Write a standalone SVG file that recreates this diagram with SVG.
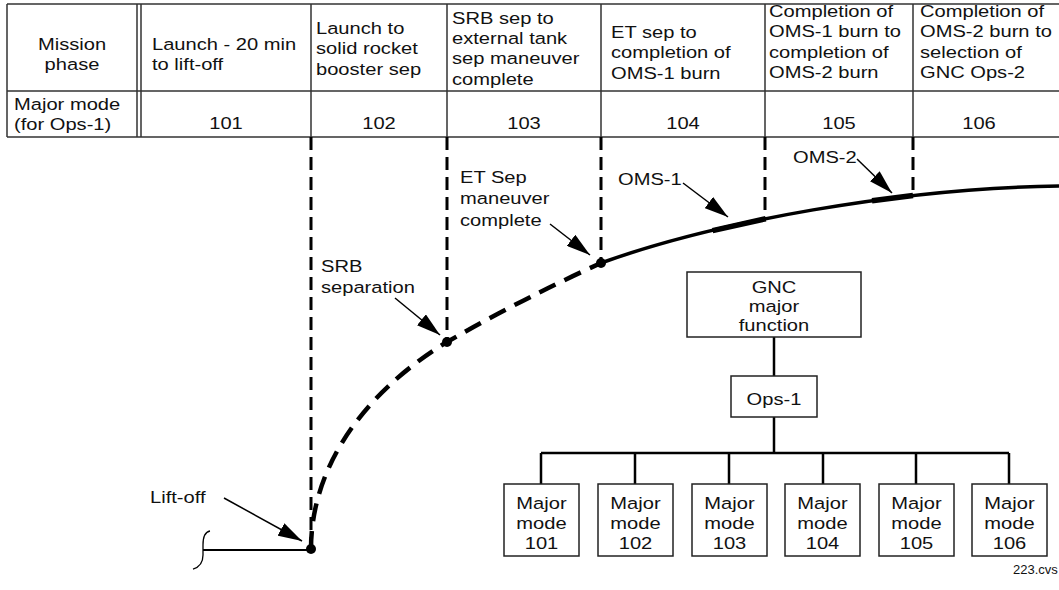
<svg xmlns="http://www.w3.org/2000/svg" width="1059" height="590" viewBox="0 0 1059 590">
<style>
text{font-family:"Liberation Sans",Arial,Helvetica,sans-serif;font-size:16.5px;fill:#111}
.c{text-anchor:middle}
.tl{stroke:#333;stroke-width:1.5;fill:none}
.vd{stroke:#000;stroke-width:3;stroke-dasharray:13 7;fill:none}
.box{fill:#fff;stroke:#222;stroke-width:1.5}
.wire{stroke:#000;stroke-width:2.5;fill:none}
.arr{stroke:#000;stroke-width:1.5;fill:none;marker-end:url(#ah)}
.dot{fill:#000}
</style>
<defs>
<marker id="ah" markerUnits="userSpaceOnUse" markerWidth="25" markerHeight="14" refX="24" refY="7" orient="auto">
<path d="M0,0 L24,7 L0,14 z" fill="#000"/>
</marker>
</defs>
<rect width="1059" height="590" fill="#fff"/>

<g id="table">
<path class="tl" d="M7,4 H1059 M7,91 H1059 M7,137 H1059 M7,4 V137 M137,4 V137 M141,4 V137 M311,4 V137 M447,4 V137 M601,4 V137 M765,4 V137 M913,4 V137"/>
<text class="c" transform="matrix(1.22 0 0 1 72 50)">Mission<tspan x="0" dy="20.5">phase</tspan></text>
<text transform="matrix(1.22 0 0 1 152 50)">Launch - 20 min<tspan x="0" dy="20.5">to lift-off</tspan></text>
<text transform="matrix(1.22 0 0 1 316 34)">Launch to<tspan x="0" dy="20.5">solid rocket</tspan><tspan x="0" dy="20.5">booster sep</tspan></text>
<text transform="matrix(1.22 0 0 1 452 23.5)">SRB sep to<tspan x="0" dy="20.5">external tank</tspan><tspan x="0" dy="20.5">sep maneuver</tspan><tspan x="0" dy="20.5">complete</tspan></text>
<text transform="matrix(1.22 0 0 1 611 38)">ET sep to<tspan x="0" dy="20.5">completion of</tspan><tspan x="0" dy="20.5">OMS-1 burn</tspan></text>
<text transform="matrix(1.22 0 0 1 769 17)">Completion of<tspan x="0" dy="20.5">OMS-1 burn to</tspan><tspan x="0" dy="20.5">completion of</tspan><tspan x="0" dy="20.5">OMS-2 burn</tspan></text>
<text transform="matrix(1.22 0 0 1 920 17)">Completion of<tspan x="0" dy="20.5">OMS-2 burn to</tspan><tspan x="0" dy="20.5">selection of</tspan><tspan x="0" dy="20.5">GNC Ops-2</tspan></text>
<text transform="matrix(1.22 0 0 1 14 110)">Major mode<tspan x="0" dy="20">(for Ops-1)</tspan></text>
<text class="c" transform="matrix(1.22 0 0 1 226 128.5)">101</text>
<text class="c" transform="matrix(1.22 0 0 1 379 128.5)">102</text>
<text class="c" transform="matrix(1.22 0 0 1 524 128.5)">103</text>
<text class="c" transform="matrix(1.22 0 0 1 683 128.5)">104</text>
<text class="c" transform="matrix(1.22 0 0 1 839 128.5)">105</text>
<text class="c" transform="matrix(1.22 0 0 1 979 128.5)">106</text>
</g>

<g id="trajectory">
<path class="vd" d="M311,137 V548 M447,137 V342 M601,137 V263 M765,137 V218 M913,137 V196"/>
<path d="M203,550 H311" stroke="#000" stroke-width="2" fill="none"/>
<path d="M210,531 C204,532 203,538 203,545 L203,555 C203,563 200,567 193,569" stroke="#000" stroke-width="1.3" fill="none"/>
<path d="M311,549 C311,470 360,395 447,342 Q520,300 601,263" stroke="#000" stroke-width="4.5" stroke-dasharray="18 10" fill="none"/>
<path d="M601,263 C715,222 900,188 1059,186" stroke="#000" stroke-width="3.5" fill="none"/>
<path d="M712.6,230.6 L765.7,218.7 M872,200.7 L913,195.6" stroke="#000" stroke-width="5.5" fill="none"/>
<circle class="dot" cx="311" cy="549" r="5"/>
<circle class="dot" cx="447" cy="342" r="5"/>
<circle class="dot" cx="601" cy="263" r="5"/>
</g>

<g id="labels">
<text transform="matrix(1.22 0 0 1 150 503)">Lift-off</text>
<text transform="matrix(1.22 0 0 1 321 272)">SRB<tspan x="0" dy="21.5">separation</tspan></text>
<text transform="matrix(1.22 0 0 1 460 183)">ET Sep<tspan x="0" dy="21.5">maneuver</tspan><tspan x="0" dy="21.5">complete</tspan></text>
<text transform="matrix(1.22 0 0 1 618 185)">OMS-1</text>
<text transform="matrix(1.22 0 0 1 793 163)">OMS-2</text>
<text x="1013" y="574" style="font-size:13px">223.cvs</text>
</g>

<g id="connectors">
<path class="arr" d="M224,498 L302,541"/>
<path class="arr" d="M395,298 L440,335"/>
<path class="arr" d="M550,224 L590,255"/>
<path class="arr" d="M683,183 L728,217"/>
<path class="arr" d="M857,159 L892,193"/>
<path class="wire" d="M774,337 V376 M774,417 V453 M541,453 H1009 M541,453 V484 M635,453 V484 M729,453 V484 M823,453 V484 M916,453 V484 M1009,453 V484"/>
</g>

<g id="gnc">
<rect class="box" x="687" y="272" width="174" height="65"/>
<text class="c" transform="matrix(1.22 0 0 1 774 293)">GNC<tspan x="0" dy="19">major</tspan><tspan x="0" dy="19">function</tspan></text>
</g>
<g id="ops1">
<rect class="box" x="731" y="376" width="86" height="41"/>
<text class="c" transform="matrix(1.22 0 0 1 774 405)">Ops-1</text>
</g>
<g id="mm101"><rect class="box" x="504" y="484" width="75" height="72"/><text class="c" transform="matrix(1.22 0 0 1 541.5 509)">Major<tspan x="0" dy="20">mode</tspan><tspan x="0" dy="20">101</tspan></text></g>
<g id="mm102"><rect class="box" x="598" y="484" width="75" height="72"/><text class="c" transform="matrix(1.22 0 0 1 635.5 509)">Major<tspan x="0" dy="20">mode</tspan><tspan x="0" dy="20">102</tspan></text></g>
<g id="mm103"><rect class="box" x="692" y="484" width="75" height="72"/><text class="c" transform="matrix(1.22 0 0 1 729.5 509)">Major<tspan x="0" dy="20">mode</tspan><tspan x="0" dy="20">103</tspan></text></g>
<g id="mm104"><rect class="box" x="785" y="484" width="75" height="72"/><text class="c" transform="matrix(1.22 0 0 1 822.5 509)">Major<tspan x="0" dy="20">mode</tspan><tspan x="0" dy="20">104</tspan></text></g>
<g id="mm105"><rect class="box" x="879" y="484" width="75" height="72"/><text class="c" transform="matrix(1.22 0 0 1 916.5 509)">Major<tspan x="0" dy="20">mode</tspan><tspan x="0" dy="20">105</tspan></text></g>
<g id="mm106"><rect class="box" x="972" y="484" width="75" height="72"/><text class="c" transform="matrix(1.22 0 0 1 1009.5 509)">Major<tspan x="0" dy="20">mode</tspan><tspan x="0" dy="20">106</tspan></text></g>
</svg>
